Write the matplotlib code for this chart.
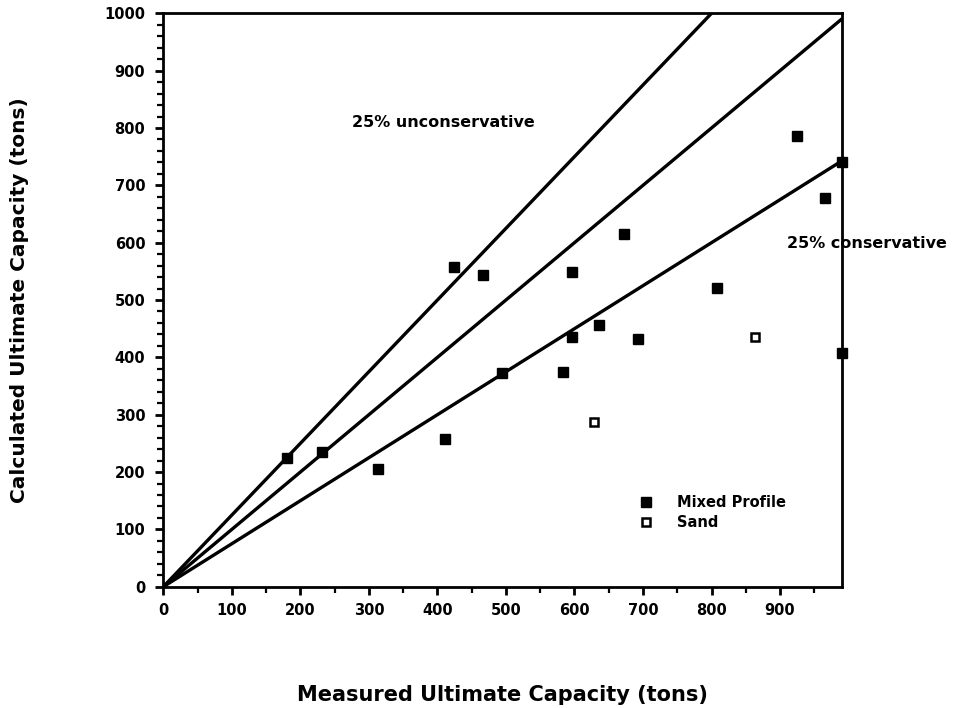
import matplotlib
matplotlib.use("Agg")
import matplotlib.pyplot as plt
from matplotlib.ticker import MultipleLocator
import numpy as np

plt.rcParams['font.family'] = ['DejaVu Sans']

# Data
mixed_measured = [180, 231, 314, 411, 424, 466, 494, 583, 597, 597, 636, 673, 692, 808, 925, 965, 990, 991]
mixed_calc     = [224, 235, 205, 257, 557, 544, 373, 375, 549, 436, 456, 615, 432, 521, 786, 678, 741, 408]
sand_measured  = [628, 863]
sand_calc      = [288, 436]

line_ratios = [1.25, 1.0, 0.75]
x_max = 990
y_max = 1000

fig = plt.figure(figsize=(9.54, 7.08), dpi=100)
ax = fig.add_axes([0.1712, 0.1713, 0.8823 - 0.1712, 0.9812 - 0.1713])

xs = np.array([0, x_max])
for r in line_ratios:
    ax.plot(xs, r * xs, color='black', lw=2.4, solid_capstyle='round', zorder=2)

ax.plot(mixed_measured, mixed_calc, ls='none', marker='s', ms=7.5, color='black',
        label='Mixed Profile', zorder=3, clip_on=False)
ax.plot(sand_measured, sand_calc, ls='none', marker='s', ms=6, mfc='white', mec='black',
        mew=1.8, label='Sand', zorder=3, clip_on=False)

ax.set_xlim(0, x_max)
ax.set_ylim(0, y_max)

ax.xaxis.set_major_locator(MultipleLocator(100))
ax.xaxis.set_minor_locator(MultipleLocator(50))
ax.yaxis.set_major_locator(MultipleLocator(100))
ax.yaxis.set_minor_locator(MultipleLocator(20))
ax.set_xticks(np.arange(0, 901, 100))

ax.tick_params(which='major', direction='out', length=6, width=2, labelsize=10.5, pad=7)
ax.tick_params(which='minor', direction='out', length=4, width=1.6)
ax.tick_params(axis='x', which='major', pad=6)
ax.tick_params(top=False, right=False, which='both')
for lab in ax.get_xticklabels() + ax.get_yticklabels():
    lab.set_fontweight('bold')

for sp in ax.spines.values():
    sp.set_linewidth(2)

ax.text(275, 809, '25% unconservative', fontsize=11.5, fontweight='bold', va='center', ha='left')
ax.text(910, 598, '25% conservative', fontsize=11.5, fontweight='bold', va='center', ha='left',
        clip_on=False)

ax.set_xlabel('Measured Ultimate Capacity (tons)', fontsize=15, fontweight='bold', labelpad=48)
ax.set_ylabel('Calculated Ultimate Capacity (tons)', fontsize=14.5, fontweight='bold', labelpad=54)

leg = ax.legend(loc='upper left', bbox_to_anchor=(0.69, 0.172), frameon=False,
                fontsize=10.5, handlelength=1.0, handletextpad=1.6, labelspacing=0.3,
                borderpad=0)
for t in leg.get_texts():
    t.set_fontweight('bold')

fig.savefig('out.png', dpi=100)
